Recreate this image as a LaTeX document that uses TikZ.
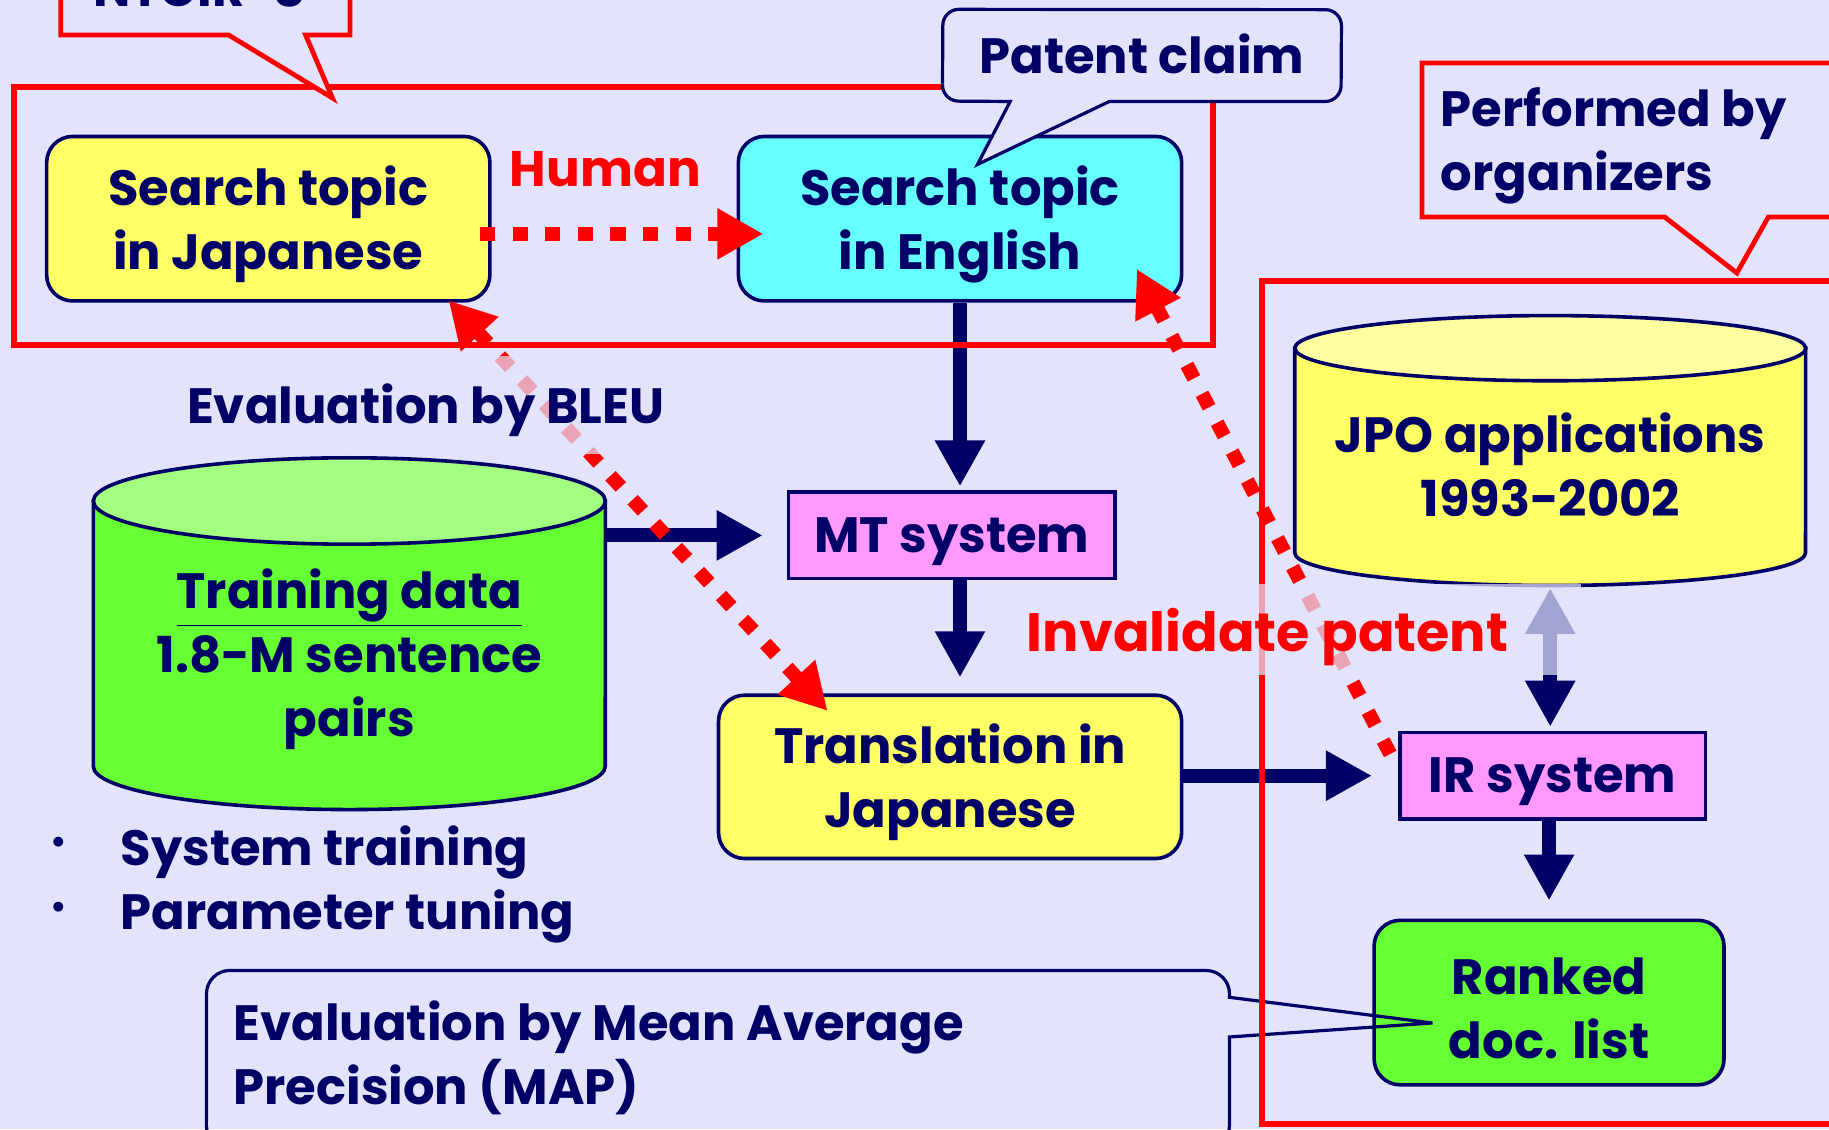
\documentclass[tikz,border=0pt]{standalone}
\usepackage{fontspec}
\setmainfont{Poppins}
\usetikzlibrary{arrows.meta,fit,calc}
\definecolor{bg}{RGB}{227,227,251}
\definecolor{ink}{RGB}{0,0,102}
\definecolor{hot}{RGB}{255,0,0}
\definecolor{lemon}{RGB}{255,255,102}
\definecolor{lemontop}{RGB}{255,255,160}
\definecolor{aqua}{RGB}{102,255,255}
\definecolor{orchid}{RGB}{255,153,255}
\definecolor{lime}{RGB}{102,255,51}
\definecolor{limetop}{RGB}{163,255,128}
\tikzset{
  bighead/.tip={Triangle[length=23pt,width=24pt]},
  inkhead/.tip={Triangle[length=23pt,width=23.5pt]}
}
\begin{document}
\begin{tikzpicture}[x=0.5833pt,y=0.5833pt,yscale=-1,
  txt/.style={font=\fontsize{24.8}{32}\selectfont\bfseries, text=ink, align=center, inner sep=0pt},
  redtxt/.style={font=\fontsize{26}{32}\selectfont\bfseries, text=hot, inner sep=0pt},
  low/.style={yshift=-2.9pt},
  box/.style={draw=ink, line width=1.8pt, inner sep=0pt},
  rbox/.style={box, rounded corners=13pt},
  drum/.style={draw=ink, line width=1.8pt},
  navyarrow/.style={draw=ink, line width=7pt, -{inkhead}},
  redarrow/.style={draw=hot, line width=7pt, dash pattern=on 7.6pt off 8.7pt},
  frame/.style={draw=hot, line width=3pt},
  redcallout/.style={draw=hot, line width=2.4pt, fill=bg},
  inkcallout/.style={draw=ink, line width=1.6pt},
  veil/.style={fill=bg, fill opacity=0.72, inner sep=0pt}]

% page
\fill[bg] (0,0) rectangle (1568,968);
\useasboundingbox (0,0) rectangle (1568,968);
\clip (0,0) rectangle (1568,968);

% training corpus drum
\filldraw[drum, fill=lime] (80,429.5) -- (80,657)
  arc[start angle=180, end angle=0, x radius=128pt, y radius=21.6pt] -- (519,429.5) -- cycle;
\filldraw[drum, fill=limetop] (299.5,429.5) ellipse [x radius=128pt, y radius=21.6pt];
\node[fit={(80,392) (519,694)}, inner sep=0pt] (train) {};
\node[txt, yshift=-1.5pt] (traintext) at (299.5,563) {\underline{Training data}\\1.8-M sentence\\pairs};

% patent document drum
\filldraw[drum, fill=lemon] (1110,298.5) -- (1110,474)
  arc[start angle=180, end angle=0, x radius=127.7pt, y radius=16.3pt] -- (1548,298.5) -- cycle;
\filldraw[drum, fill=lemontop] (1329,298.5) ellipse [x radius=127.7pt, y radius=16.3pt];
\node[fit={(1110,270) (1548,502)}, inner sep=0pt] (jpo) {};
\node[txt, yshift=1pt] (jpotext) at (1329,400) {JPO applications\\1993-2002};

% process boxes
\node[rbox, fill=lemon, fit={(40,117) (420,258)}] (jp) {};
\node[rbox, fill=aqua, fit={(633,117) (1013,258)}] (en) {};
\node[box, fill=orchid, fit={(676,422) (956,496)}] (mt) {};
\node[rbox, fill=lemon, fit={(616,596) (1013,736)}] (tr) {};
\node[box, fill=orchid, fit={(1200,628) (1462,702)}] (ir) {};
\node[rbox, fill=lime, fit={(1178,789) (1478,930)}] (rk) {};
\node[txt, low] (jptext) at (jp.center) {Search topic\\in Japanese};
\node[txt, low] (entext) at (en.center) {Search topic\\in English};
\node[txt, low] (mttext) at (mt.center) {MT system};
\node[txt, low] (trtext) at (tr.center) {Translation in\\Japanese};
\node[txt, low] (irtext) at (ir.center) {IR system};
\node[txt, low] (rktext) at (rk.center) {Ranked\\doc. list};

% data flow
\draw[navyarrow, shorten >=2pt] (en.south |- en.south) -- (en.south |- mt.north);
\draw[navyarrow, shorten >=8pt] (en.south |- mt.south) -- (en.south |- tr.north);
\draw[navyarrow, shorten >=12pt] (train.east |- mt.west) -- (mt.west);
\draw[navyarrow, shorten >=13pt] (tr.east |- ir.west) -- (ir.west);
\draw[navyarrow, shorten >=9pt] (rk.north |- ir.south) -- (rk.north);
\draw[draw=ink, line width=7pt, {inkhead}-{inkhead},
  shorten <=1pt, shorten >=2pt] (jpo.south) -- (jpo.south |- ir.north);

% human translation and evaluation links
\draw[redarrow, -{bighead}] ($(jp.east)+(-10,13)$) -- ($(en.west)+(23,13)$);
\draw[redarrow, {bighead}-{bighead}] ($(jp.south east)+(-37,-2)$) -- ($(tr.north west)+(95,15)$);
\draw[redarrow, {bighead}-] ($(en.south east)+(-40,-29)$) -- ($(ir.north west)+(-4,25)$);

% evaluation callout on the ranked list
\draw[inkcallout] (1054,855) -- (1228,877) -- (1054,889) -- (1054,965)
  arc[start angle=0, end angle=90, radius=11.7pt] -- (197,985)
  arc[start angle=90, end angle=180, radius=11.7pt] -- (177,852)
  arc[start angle=180, end angle=270, radius=11.7pt] -- (1034,832)
  arc[start angle=270, end angle=360, radius=11.7pt] -- cycle;
\node[txt, low, anchor=west, align=left] (map) at (200,902) {Evaluation by Mean Average\\Precision (MAP)};

% group frames
\draw[frame] (12,75) rectangle (1040,296);
\draw[frame] (1082,241) rectangle (1640,964);

% callouts
\draw[redcallout] (52,-30) -- (52,30) -- (196,30) -- (285,84) -- (262,30) -- (300,30) -- (300,-30) -- cycle;
\node[txt, anchor=base] (ntcir) at (171,6) {NTCIR-8};

\draw[inkcallout, fill=bg] (866,87) -- (838,141) -- (951,87) -- (1136,87)
  arc[start angle=90, end angle=0, radius=8pt] -- (1150,22)
  arc[start angle=0, end angle=-90, radius=8pt] -- (822,8)
  arc[start angle=270, end angle=180, radius=8pt] -- (808,73)
  arc[start angle=180, end angle=90, radius=8pt] -- cycle;
\node[txt, yshift=1pt] (claim) at (979,48) {Patent claim};

\draw[redcallout] (1640,186) -- (1516,186) -- (1489,234) -- (1427,186) -- (1219,186) -- (1219,54) -- (1640,54) -- cycle;
\node[txt, low, anchor=west, align=left] (perf) at (1235,120) {Performed by\\organizers};

% labels over translucent text boxes
\node[redtxt, font=\fontsize{25}{32}\selectfont\bfseries] (human) at (519,145) {Human};
\node[veil, fit={(140,305) (590,389)}] (bleubox) {};
\node[txt, low] (bleu) at (bleubox.center) {Evaluation by BLEU};
\node[veil, fit={(860,501) (1355,579)}] (invalbox) {};
\node[redtxt, low, font=\fontsize{27}{32}\selectfont\bfseries, anchor=west] (inval) at (880,541) {Invalidate patent};

\node[text=ink, font=\fontsize{20}{20}\selectfont, inner sep=0pt] (dot1) at (50,726) {•};
\node[text=ink, font=\fontsize{20}{20}\selectfont, inner sep=0pt] (dot2) at (50,781) {•};
\node[txt, low, anchor=west] (b1) at (103,726) {System training};
\node[txt, low, anchor=west] (b2) at (103,781) {Parameter tuning};
\end{tikzpicture}
\end{document}
